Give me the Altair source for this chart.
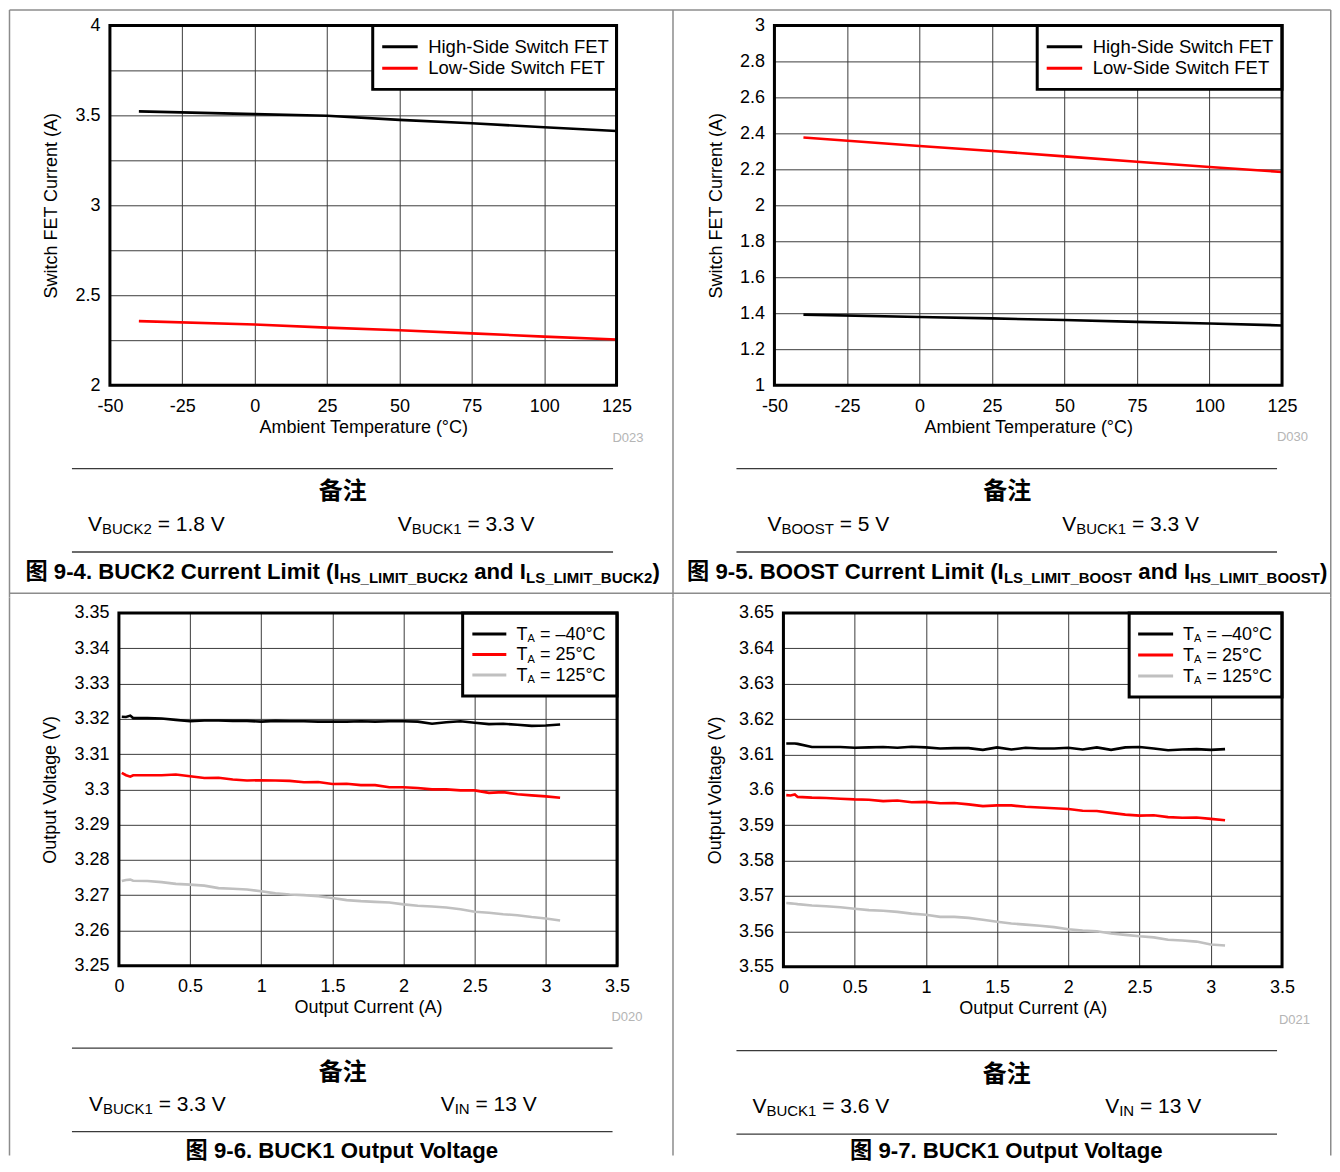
import altair as alt
import pandas as pd

SANS = "Liberation Sans, Arial, Noto Sans CJK SC, sans-serif"
CJK = "Noto Sans CJK SC, sans-serif"

# ---------------- data ----------------
temp = [-40, 0, 25, 50, 75, 100, 125]
buck2_hs = [3.522, 3.507, 3.498, 3.475, 3.456, 3.434, 3.413]
buck2_ls = [2.356, 2.337, 2.320, 2.305, 2.288, 2.270, 2.254]
boost_hs = [1.392, 1.379, 1.371, 1.362, 1.352, 1.343, 1.332]
boost_ls = [2.377, 2.330, 2.302, 2.272, 2.242, 2.213, 2.185]

iout = [0.02, 0.05, 0.08, 0.1, 0.2, 0.3, 0.4, 0.5, 0.6, 0.7, 0.8, 0.9, 1.0,
        1.1, 1.2, 1.3, 1.4, 1.5, 1.6, 1.7, 1.8, 1.9, 2.0,
        2.1, 2.2, 2.3, 2.4, 2.5, 2.6, 2.7, 2.8, 2.9, 3.0, 3.1]
b33_m40 = [3.3206, 3.3205, 3.3209, 3.3202, 3.3202, 3.3201, 3.3197, 3.3193, 3.3195, 3.3195, 3.3194, 3.3194, 3.3192,
           3.3194, 3.3193, 3.3193, 3.3192, 3.3192, 3.3192, 3.3193, 3.3192, 3.3193, 3.3193,
           3.3192, 3.3186, 3.3190, 3.3193, 3.3189, 3.3185, 3.3186, 3.3183, 3.3180, 3.3181, 3.3184]
b33_25 = [3.3047, 3.3040, 3.3036, 3.3040, 3.3040, 3.3040, 3.3042, 3.3037, 3.3032, 3.3033, 3.3028, 3.3025, 3.3026,
          3.3025, 3.3024, 3.3020, 3.3021, 3.3015, 3.3016, 3.3012, 3.3012, 3.3006, 3.3006,
          3.3004, 3.3000, 3.3000, 3.2997, 3.2997, 3.2990, 3.2992, 3.2986, 3.2983, 3.2980, 3.2976]
b33_125 = [3.2740, 3.2743, 3.2744, 3.2741, 3.2740, 3.2737, 3.2732, 3.2730, 3.2727, 3.2720, 3.2718, 3.2716, 3.2711,
           3.2705, 3.2702, 3.2700, 3.2697, 3.2692, 3.2686, 3.2683, 3.2681, 3.2679, 3.2674,
           3.2670, 3.2668, 3.2665, 3.2660, 3.2653, 3.2650, 3.2646, 3.2643, 3.2638, 3.2634, 3.2628]
b36_m40 = [3.6131, 3.6131, 3.6131, 3.6130, 3.6121, 3.6121, 3.6121, 3.6119, 3.6120, 3.6121, 3.6119, 3.6122, 3.6120,
           3.6117, 3.6118, 3.6118, 3.6113, 3.6120, 3.6114, 3.6119, 3.6117, 3.6117, 3.6119,
           3.6114, 3.6120, 3.6113, 3.6120, 3.6121, 3.6117, 3.6112, 3.6114, 3.6115, 3.6113, 3.6115]
b36_25 = [3.5985, 3.5984, 3.5987, 3.5980, 3.5978, 3.5977, 3.5975, 3.5973, 3.5972, 3.5968, 3.5970, 3.5965, 3.5966,
          3.5962, 3.5963, 3.5959, 3.5954, 3.5956, 3.5956, 3.5952, 3.5950, 3.5948, 3.5946,
          3.5941, 3.5940, 3.5935, 3.5930, 3.5927, 3.5928, 3.5923, 3.5921, 3.5922, 3.5918, 3.5914]
b36_125 = [3.5680, 3.5679, 3.5678, 3.5677, 3.5673, 3.5671, 3.5668, 3.5664, 3.5660, 3.5658, 3.5655, 3.5650, 3.5647,
           3.5641, 3.5641, 3.5638, 3.5633, 3.5627, 3.5622, 3.5619, 3.5616, 3.5612, 3.5606,
           3.5602, 3.5600, 3.5594, 3.5590, 3.5586, 3.5583, 3.5576, 3.5574, 3.5571, 3.5563, 3.5560]

fet_names = ["High-Side Switch FET", "Low-Side Switch FET"]
fet_colors = ["#000000", "#ff0000"]
ta_names = ["TA = –40°C", "TA = 25°C", "TA = 125°C"]
ta_values = ["–40°C", "25°C", "125°C"]
ta_colors = ["#000000", "#ff0000", "#c0c0c0"]
all_names = fet_names + ta_names
all_colors = fet_colors + ta_colors

temp_ticks = [-50, -25, 0, 25, 50, 75, 100, 125]
cur_ticks = [0, 0.5, 1, 1.5, 2, 2.5, 3, 3.5]
buck2_yticks = [round(2 + 0.25 * i, 2) for i in range(9)]
boost_yticks = [round(1 + 0.2 * i, 1) for i in range(11)]
v33_yticks = [round(3.25 + 0.01 * i, 2) for i in range(11)]
v36_yticks = [round(3.55 + 0.01 * i, 2) for i in range(11)]

# ---------------- text metrics (Arial / Liberation Sans) ----------------
UP = "ABCDEFGHIJKLMNOPQRSTUVWXYZ"
LO = "abcdefghijklmnopqrstuvwxyz"
REG = dict(zip(UP, [667, 667, 722, 722, 667, 611, 778, 722, 278, 500, 667, 556, 833, 722, 778, 667, 778, 722, 667, 611, 722, 667, 944, 667, 667, 611]))
REG.update(zip(LO, [556, 556, 500, 556, 556, 278, 556, 556, 222, 222, 500, 222, 833, 556, 556, 556, 556, 333, 500, 278, 556, 500, 722, 500, 500, 500]))
BLD = dict(zip(UP, [722, 722, 722, 722, 667, 611, 778, 722, 278, 556, 722, 611, 833, 722, 778, 667, 778, 722, 667, 611, 722, 667, 944, 667, 667, 611]))
BLD.update(zip(LO, [556, 611, 556, 611, 556, 333, 611, 611, 278, 278, 556, 278, 889, 611, 611, 611, 611, 389, 556, 333, 611, 556, 778, 556, 556, 500]))
for tbl in (REG, BLD):
    tbl.update({" ": 278, "(": 333, ")": 333, "-": 333, ".": 278, "=": 584, "_": 556, "°": 400, "–": 556})
    tbl.update({d: 556 for d in "0123456789"})


def tw(s, size, bold=False):
    tbl = BLD if bold else REG
    return sum((1000 if ord(c) > 0x2E80 else tbl.get(c, 556)) for c in s) * size / 1000.0


ONE = pd.DataFrame({"k": [0]})


def rich(segs, x, y, anchor="left", bold=False, color="black"):
    total = sum(tw(t, s, bold) for t, s, d in segs)
    cx = x - total / 2 if anchor == "center" else x
    out = []
    for t, s, d in segs:
        lead = len(t) - len(t.lstrip())
        out.append(
            alt.Chart(ONE).mark_text(
                text=t.strip(), align="left", baseline="alphabetic", fontSize=s,
                font=SANS, fontWeight="bold" if bold else "normal", color=color,
            ).encode(x=alt.value(cx + tw(t[:lead], s, bold)), y=alt.value(y + d))
        )
        cx += tw(t, s, bold)
    return out


def rule(x, y, x2=None, y2=None, color="#8c8c8c", width=1.5):
    enc = dict(x=alt.value(x), y=alt.value(y))
    if x2 is not None:
        enc["x2"] = alt.value(x2)
    if y2 is not None:
        enc["y2"] = alt.value(y2)
    return alt.Chart(ONE).mark_rule(color=color, strokeWidth=width).encode(**enc)


def panel(p):
    W, H, ox = p["W"], p["H"], p["ox"]
    rows = []
    for name, xs, ys in p["series"]:
        for a, b in zip(xs, ys):
            rows.append({"x": a, "y": b, "s": name})
    df = pd.DataFrame(rows)
    lines = alt.Chart(df).mark_line(strokeWidth=2.6).encode(
        x=alt.X("x:Q", scale=alt.Scale(domain=p["xdom"], range=[ox, ox + W], nice=False, zero=False),
                axis=alt.Axis(values=p["xticks"], title=p["xtitle"], labelExpr="'' + datum.value")),
        y=alt.Y("y:Q", scale=alt.Scale(domain=p["ydom"], range=[H, 0], nice=False, zero=False),
                axis=alt.Axis(values=p["yticks"], title=p["ytitle"], labelExpr=p["ylab"],
                              labelPadding=p["lpad"])),
        color=alt.Color("s:N", scale=alt.Scale(domain=all_names, range=all_colors), legend=None),
    )
    layers = [lines]
    # legend box
    bx0, by1 = p["box"]
    layers.append(alt.Chart(ONE).mark_rect(fill="white", stroke="black", strokeWidth=3).encode(
        x=alt.value(bx0), x2=alt.value(ox + W), y=alt.value(0), y2=alt.value(by1)))
    sx0, sx1 = p["sym"]
    for ry, col, segs in zip(p["rows"], p["colors"], p["legsegs"]):
        layers.append(rule(sx0, ry, x2=sx1, color=col, width=3))
        layers += rich(segs, p["tx"], ry + 6)
    # plot frame
    layers.append(alt.Chart(ONE).mark_rect(fillOpacity=0, stroke="black", strokeWidth=3).encode(
        x=alt.value(ox), x2=alt.value(ox + W), y=alt.value(0), y2=alt.value(H)))
    # outer panel frame
    L, R, T, B = p["frame"]
    if p["topline"]:
        layers.append(rule(L, T, x2=R))
    if p["divider"] is not None:
        layers.append(rule(L, p["divider"], x2=R))
    if p["leftline"]:
        layers.append(rule(L, T, y2=B))
    layers.append(rule(R, T, y2=B))
    # D-number
    dx, dy = p["dlab"]
    layers.append(alt.Chart(ONE).mark_text(text=p["dtext"], align="right", baseline="middle", fontSize=13,
                                           font=SANS, color="#b5b5b5").encode(x=alt.value(dx), y=alt.value(dy)))
    # separators
    s0, s1 = p["sepx"]
    for sy in p["sepy"]:
        layers.append(rule(s0, sy, x2=s1, color="#3a3a3a", width=1.4))
    # note title
    nx, ny = p["notehead"]
    layers.append(alt.Chart(ONE).mark_text(text="备注", align="center", baseline="middle", fontSize=24,
                                           font=CJK, fontWeight="bold", color="black").encode(
        x=alt.value(nx), y=alt.value(ny)))
    for (x0, segs) in p["notes"]:
        layers += rich(segs, x0, p["notey"])
    cx, cy = p["cappos"]
    layers += rich(p["caption"], cx, cy, anchor="center", bold=True)
    return alt.layer(*layers).properties(width=p["VW"], height=H)


def fet_leg(n):
    return [(n, 18.5, 0)]


def ta_leg(v):
    return [("T", 18, 0), ("A", 11, 2.5), (" = " + v, 18, 0)]


def note(main, sub, rest):
    return [(main, 21, 0), (sub, 15, 3.5), (rest, 21, 0)]


def cap(head, s1, mid, s2, tail):
    return [(head, 22.2, 0), (s1, 15, 4), (mid, 22.2, 0), (s2, 15, 4), (tail, 22.2, 0)]


half = "datum.value % 0.5 == 0 ? '' + datum.value : ''"
plain = "'' + datum.value"

# All coordinates of decorations are relative to each view's origin.
p1 = dict(
    W=507, H=360, ox=0, VW=507, lpad=10, xdom=[-50, 125], xticks=temp_ticks, ydom=[2, 4],
    yticks=buck2_yticks, ylab=half,
    xtitle="Ambient Temperature (°C)", ytitle="Switch FET Current (A)",
    series=[(fet_names[0], temp, buck2_hs), (fet_names[1], temp, buck2_ls)],
    colors=fet_colors, legsegs=[fet_leg(n) for n in fet_names],
    box=(263, 64), sym=(272.5, 308), rows=[21.3, 42.8], tx=318.5,
    frame=(-100.5, 563.5, -15.5, 572.5), topline=True, divider=568.25, leftline=True,
    dlab=(534, 412.5), dtext="D023",
    sepx=(-38, 503.5), sepy=[443.5, 527], notehead=(233, 467), notey=505.5,
    notes=[(-22, note("V", "BUCK2", " = 1.8 V")), (288, note("V", "BUCK1", " = 3.3 V"))],
    cappos=(233, 554), caption=cap("图 9-4. BUCK2 Current Limit (I", "HS_LIMIT_BUCK2", " and I", "LS_LIMIT_BUCK2", ")"),
)
p2 = dict(
    W=508, H=360, ox=0, VW=508, lpad=10, xdom=[-50, 125], xticks=temp_ticks, ydom=[1, 3],
    yticks=boost_yticks, ylab=plain,
    xtitle="Ambient Temperature (°C)", ytitle="Switch FET Current (A)",
    series=[(fet_names[0], temp, boost_hs), (fet_names[1], temp, boost_ls)],
    colors=fet_colors, legsegs=[fet_leg(n) for n in fet_names],
    box=(263, 64), sym=(272.5, 308), rows=[21.3, 42.8], tx=318.5,
    frame=(-101.5, 556.75, -15.5, 572.5), topline=True, divider=568.25, leftline=False,
    dlab=(534, 412), dtext="D030",
    sepx=(-38, 503), sepy=[443.5, 527], notehead=(233, 467), notey=505.5,
    notes=[(-7, note("V", "BOOST", " = 5 V")), (288, note("V", "BUCK1", " = 3.3 V"))],
    cappos=(233, 554), caption=cap("图 9-5. BOOST Current Limit (I", "LS_LIMIT_BOOST", " and I", "HS_LIMIT_BOOST", ")"),
)
p3 = dict(
    W=498.5, H=353, ox=9, VW=507, lpad=1, xdom=[0, 3.5], xticks=cur_ticks, ydom=[3.25, 3.35],
    yticks=v33_yticks, ylab=plain,
    xtitle="Output Current (A)", ytitle="Output Voltage (V)",
    series=[(ta_names[0], iout, b33_m40), (ta_names[1], iout, b33_25), (ta_names[2], iout, b33_125)],
    colors=ta_colors, legsegs=[ta_leg(v) for v in ta_values],
    box=(353, 83), sym=(362.7, 396.7), rows=[21, 41.5, 62], tx=407,
    frame=(-100.5, 563.5, -15.5, 543), topline=False, divider=None, leftline=True,
    dlab=(533, 404), dtext="D020",
    sepx=(-38, 503), sepy=[435.5, 519], notehead=(233, 460.5), notey=498,
    notes=[(-21, note("V", "BUCK1", " = 3.3 V")), (331, note("V", "IN", " = 13 V"))],
    cappos=(233, 545), caption=[("图 9-6. BUCK1 Output Voltage", 22.2, 0)],
)
p4 = dict(
    W=499, H=354, ox=9, VW=508, lpad=1, xdom=[0, 3.5], xticks=cur_ticks, ydom=[3.55, 3.65],
    yticks=v36_yticks, ylab=plain,
    xtitle="Output Current (A)", ytitle="Output Voltage (V)",
    series=[(ta_names[0], iout, b36_m40), (ta_names[1], iout, b36_25), (ta_names[2], iout, b36_125)],
    colors=ta_colors, legsegs=[ta_leg(v) for v in ta_values],
    box=(355, 84), sym=(364, 399), rows=[21, 42, 63], tx=409,
    frame=(-101.5, 556.75, -15.5, 543), topline=False, divider=None, leftline=False,
    dlab=(536, 407), dtext="D021",
    sepx=(-38, 503), sepy=[438, 521.5], notehead=(232.5, 462), notey=500,
    notes=[(-22, note("V", "BUCK1", " = 3.6 V")), (331, note("V", "IN", " = 13 V"))],
    cappos=(233, 545.5), caption=[("图 9-7. BUCK1 Output Voltage", 22.2, 0)],
)

chart = alt.concat(
    panel(p1), panel(p2), panel(p3), panel(p4),
    columns=2, spacing={"row": 228, "column": 158}, align="none", bounds="flush",
).properties(padding=0, background="white").configure_axis(
    labelFont=SANS, titleFont=SANS, labelFontSize=18, titleFontSize=18,
    labelColor="black", titleColor="black", titleFontWeight="normal",
    grid=True, gridColor="#3c3c3c", gridWidth=1, gridOpacity=1,
    ticks=False, tickSize=0, domain=False, labelFlush=False, labelOverlap=False,
).configure_axisX(labelPadding=12, titlePadding=3).configure_axisY(
    titlePadding=14
).configure_view(strokeWidth=0)

chart.save("out.html", embed_options={"renderer": "svg", "actions": False})
